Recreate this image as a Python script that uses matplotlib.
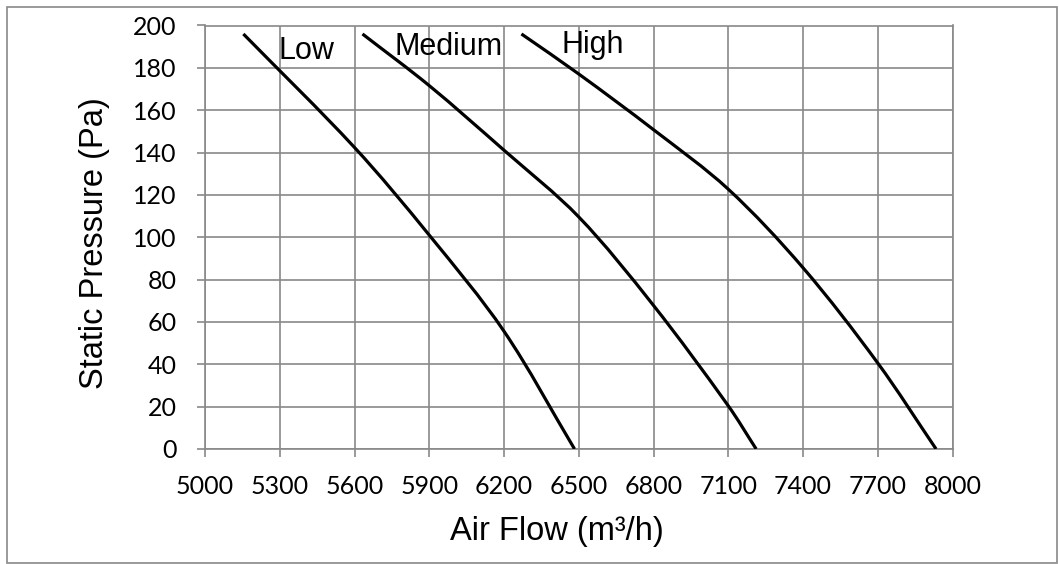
#-------------------- IMPORTS --------------------------------------------------
import numpy as np
import matplotlib
matplotlib.use("Agg")
import matplotlib.pyplot as plt
from matplotlib.patches import Rectangle, PathPatch
from matplotlib.path import Path

#-------------------- DATA ----------------------------------------------------
low_flow = [5154, 5600, 5900, 6200, 6483]
low_pressure = [196, 142.4, 101, 55.6, 0]

medium_flow = [5632, 5900, 6200, 6500, 6800, 7100, 7212]
medium_pressure = [196, 171.6, 141.1, 109.6, 67.8, 20.4, 0]

high_flow = [6270, 6500, 6800, 7100, 7400, 7700, 7934]
high_pressure = [196, 177.1, 150.8, 122.7, 85.6, 40.6, 0]

curve_names = ["Low", "Medium", "High"]
label_x = [5293, 5762, 6431]
label_y = [184, 186, 187]

x_ticks = list(range(5000, 8001, 300))
y_ticks = list(range(0, 201, 20))

#-------------------- FIGURE ---------------------------------------------------
W, H = 1059, 564
fig = plt.figure(figsize=(W / 100, H / 100), dpi=100)
ax = fig.add_axes([205 / W, 1 - 449 / H, (952.5 - 205) / W, (449 - 25.5) / H])
ax.set_xlim(5000, 8000)
ax.set_ylim(0, 200)

grid_col = "#898989"

#-------------------- SMOOTHED LINE (like excel's "smoothed line") ------------
def smooth_path(xs, ys):
    # bezier through every point, tangents weighted by chord length (screen px)
    pts = np.column_stack([xs, ys]).astype(float)
    scr = ax.transData.transform(pts)
    d = np.hypot(*np.diff(scr, axis=0).T)
    n = len(pts)
    tang = np.zeros_like(pts)
    tang[0] = (pts[1] - pts[0]) / d[0]
    tang[-1] = (pts[-1] - pts[-2]) / d[-1]
    for i in range(1, n - 1):
        tang[i] = (pts[i + 1] - pts[i - 1]) / (d[i - 1] + d[i])
    verts = [pts[0]]
    codes = [Path.MOVETO]
    for i in range(n - 1):
        verts += [pts[i] + tang[i] * d[i] / 3,
                  pts[i + 1] - tang[i + 1] * d[i] / 3,
                  pts[i + 1]]
        codes += [Path.CURVE4] * 3
    return Path(verts, codes)

series = [(low_flow, low_pressure), (medium_flow, medium_pressure),
          (high_flow, high_pressure)]
for flow, pres in series:
    ax.add_patch(PathPatch(smooth_path(flow, pres), fill=False,
                           edgecolor="black", lw=2.3, capstyle="butt", zorder=3))

for name, lx, ly in zip(curve_names, label_x, label_y):
    ax.text(lx, ly, name, fontsize=22, family="Liberation Sans",
            ha="left", va="baseline", zorder=4)

ax.set_xticks(x_ticks)
ax.set_yticks(y_ticks)
ax.grid(True, color=grid_col, lw=1.2)
ax.set_axisbelow(True)
for sp in ax.spines.values():
    sp.set_color(grid_col)
    sp.set_linewidth(1.2)

ax.tick_params(axis="both", direction="out", color=grid_col, width=1.2,
               length=5.5, labelsize=18)
ax.tick_params(axis="x", pad=13)
ax.tick_params(axis="y", pad=15)
for lbl in ax.get_xticklabels() + ax.get_yticklabels():
    lbl.set_family("Lato")

# axis titles placed where they sit in the original
fig.text(557 / W, 1 - 540 / H, "Air Flow (m\u00b3/h)", fontsize=23.5,
         family="Liberation Sans", ha="center", va="baseline")
fig.text(95 / W, 1 - 243.5 / H, "Static Pressure (Pa)", fontsize=23.5,
         family="Liberation Sans", ha="center", va="center", rotation=90)

# chart border
fig.patches.append(Rectangle((6.5 / W, 1.5 / H), 1050 / W, 555.5 / H,
                             transform=fig.transFigure, fill=False,
                             edgecolor=grid_col, lw=1.2))

fig.savefig("out.png", dpi=100)
